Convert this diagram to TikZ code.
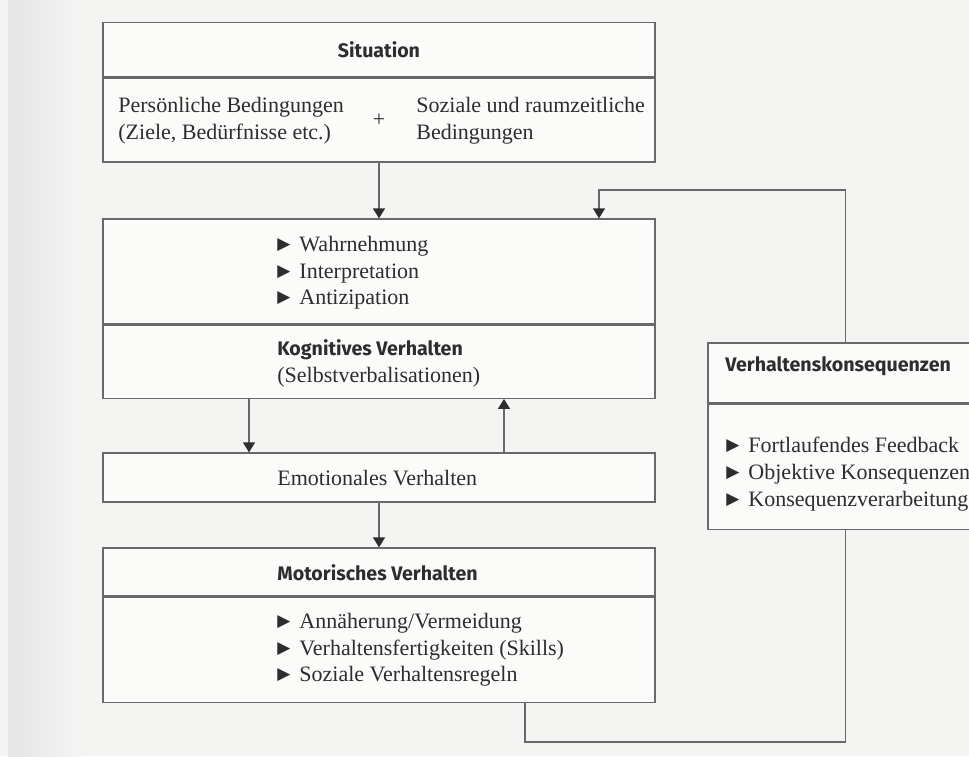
\documentclass[tikz,border=0pt]{standalone}
\usepackage{fontspec}
\usepackage{xcolor}
\usetikzlibrary{arrows.meta}
\setmainfont{Liberation Serif}
\newfontfamily\headfont{Fira Sans}
\newfontfamily\symfont{DejaVu Sans}

\definecolor{paper}{RGB}{244,244,243}
\definecolor{boxfill}{RGB}{251,251,250}
\definecolor{linegray}{RGB}{105,105,105}
\definecolor{ink}{RGB}{45,45,45}

\newcommand{\bul}{\raisebox{0.2ex}{\symfont\fontsize{8.5}{8.5}\selectfont ▶}\hspace{4.5pt}}

\tikzset{
  box/.style={draw=linegray, line width=0.65pt, fill=boxfill, inner sep=0pt},
  txt/.style={text=ink, inner sep=0pt, align=left, font=\fontsize{11}{13.35}\selectfont},
  head/.style={text=ink, inner sep=0pt, font=\headfont\bfseries\fontsize{9.8}{12}\selectfont},
  arr/.style={draw=linegray, line width=0.65pt, -{Triangle[length=5pt,width=6pt,color=ink]}},
  link/.style={draw=linegray, line width=0.65pt}
}

\begin{document}
\begin{tikzpicture}[x=0.5pt,y=-0.5pt]
  \useasboundingbox (0,0) rectangle (969,756);
  \clip (0,0) rectangle (969,756);
  \fill[paper] (0,0) rectangle (969,756);
  \shade[left color=gray!20, right color=paper] (8,0) rectangle (80,756);

  % Situation
  \node[box, minimum width=276pt, minimum height=27pt] (sitHead) at (379,49.7) {};
  \node[box, minimum width=276pt, minimum height=42pt, anchor=north] (sitBody) at (sitHead.south) {};
  \node[head] (sitTitle) at (sitHead) {Situation};
  \node[txt, anchor=west] (pers) at (118,121) {Persönliche Bedingungen\\(Ziele, Bedürfnisse etc.)};
  \node[txt] (plus) at (sitBody) {+};
  \node[txt, anchor=west] (soz) at (416,121) {Soziale und raumzeitliche\\Bedingungen};

  % Kognitives Verhalten
  \node[box, minimum width=276pt, minimum height=52.5pt] (kogTop) at (379,271.5) {};
  \node[box, minimum width=276pt, minimum height=36.5pt, anchor=north] (kogBot) at (kogTop.south) {};
  \node[txt, anchor=west] (kogList) at (277,273) {\bul Wahrnehmung\\\bul Interpretation\\\bul Antizipation};
  \node[head, anchor=west] (kogTitle) at (277,350) {Kognitives Verhalten};
  \node[txt, anchor=west] (kogSub) at (277,377) {(Selbstverbalisationen)};

  % Emotionales Verhalten
  \node[box, minimum width=276pt, minimum height=24.5pt] (emo) at (379,477.5) {};
  \node[txt, anchor=west] (emoText) at (277,478) {Emotionales Verhalten};

  % Motorisches Verhalten
  \node[box, minimum width=276pt, minimum height=24pt] (motHead) at (379,572) {};
  \node[box, minimum width=276pt, minimum height=52.5pt, anchor=north] (motBody) at (motHead.south) {};
  \node[head, anchor=west] (motTitle) at (277,573) {Motorisches Verhalten};
  \node[txt, anchor=west] (motList) at (277,650) {\bul Annäherung/Vermeidung\\\bul Verhaltensfertigkeiten (Skills)\\\bul Soziale Verhaltensregeln};

  % Verhaltenskonsequenzen
  \node[box, minimum width=137.5pt, minimum height=30pt] (vkHead) at (845.5,373) {};
  \node[box, minimum width=137.5pt, minimum height=62.5pt, anchor=north] (vkBody) at (vkHead.south) {};
  \node[head, anchor=west] (vkTitle) at (725,366) {Verhaltenskonsequenzen};
  \node[txt, anchor=west] (vkList) at (726,474) {\bul Fortlaufendes Feedback\\\bul Objektive Konsequenzen\\\bul Konsequenzverarbeitung};

  % Verbindungen
  \coordinate (fbTurn) at (599,190);
  \coordinate (loopTurn) at (525,742);
  \draw[arr] (sitBody.south) -- (kogTop.north);
  \draw[arr] (vkHead.north) |- (fbTurn) -- (fbTurn |- kogTop.north);
  \draw[arr] ([xshift=-65pt]kogBot.south) -- ([xshift=-65pt]emo.north);
  \draw[arr] ([xshift=62.5pt]emo.north) -- ([xshift=62.5pt]kogBot.south);
  \draw[arr] (emo.south) -- (motHead.north);
  \draw[link] (loopTurn |- motBody.south) -- (loopTurn) -| (vkBody.south);
\end{tikzpicture}
\end{document}
